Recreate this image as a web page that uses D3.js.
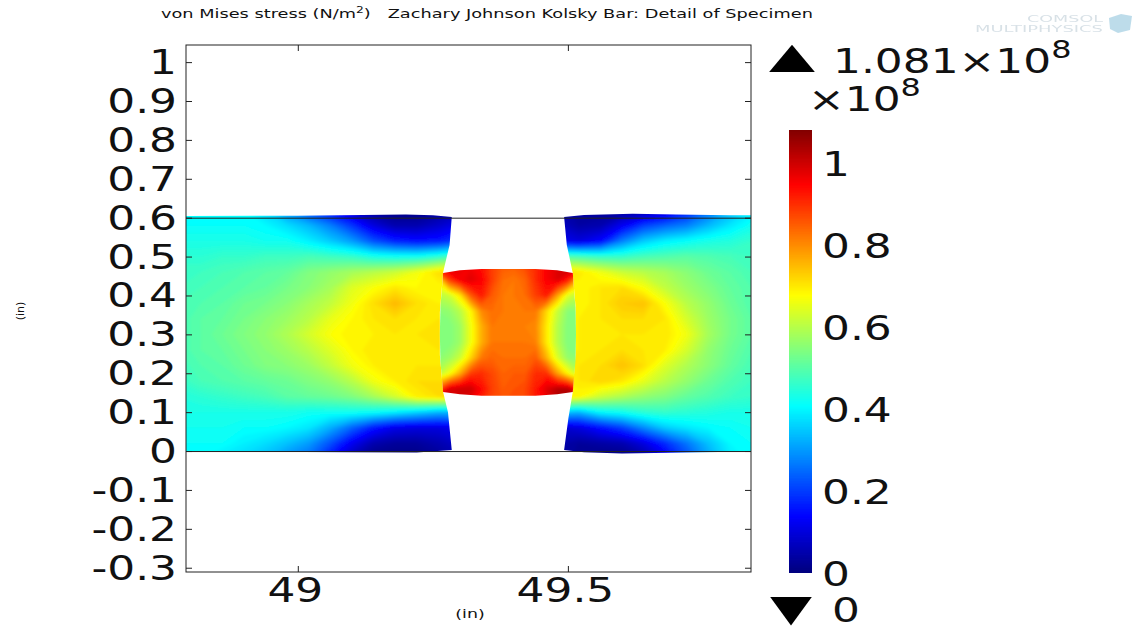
<!DOCTYPE html>
<html>
<head>
<meta charset="utf-8">
<script src="https://cdn.jsdelivr.net/npm/d3@7"></script>
<style>
  body { margin: 0; background: #fff; }
  text { font-family: "DejaVu Sans", sans-serif; fill: #111; }
</style>
</head>
<body>
<div id="chart"></div>
<script>
// axis ticks, inches and 1e8 N/m2
const xTicks = [49, 49.5];
const yTicks = [-0.3, -0.2, -0.1, 0, 0.1, 0.2, 0.3, 0.4, 0.5, 0.6, 0.7, 0.8, 0.9, 1];
const colorTicks = [0, 0.2, 0.4, 0.6, 0.8, 1];
const stressMax = 1.081;

// stress, one row per y (top row first)
const leftBarX = [48.78, 0.04];
const leftBarY = [0.62, 0.04];
const leftBarStress = [
  [.40,.40,.40,.40,.36,.28,.20,.13,.07,.02,.00,.00,.02,.05],
  [.41,.41,.41,.41,.40,.37,.33,.27,.19,.10,.05,.05,.08,.12],
  [.43,.43,.43,.43,.42,.42,.39,.35,.30,.22,.17,.15,.16,.20],
  [.45,.45,.46,.46,.47,.47,.48,.47,.46,.43,.42,.42,.45,.50],
  [.47,.47,.48,.49,.50,.51,.54,.56,.58,.60,.62,.66,.71,.72],
  [.47,.48,.49,.50,.51,.53,.55,.58,.64,.67,.70,.68,.68,.68],
  [.48,.49,.50,.52,.53,.55,.58,.61,.66,.71,.75,.71,.69,.69],
  [.48,.50,.51,.53,.55,.57,.60,.65,.68,.70,.71,.70,.70,.70],
  [.48,.50,.52,.54,.56,.59,.63,.67,.69,.69,.70,.70,.71,.71],
  [.48,.50,.51,.53,.55,.57,.60,.64,.68,.70,.70,.70,.70,.70],
  [.47,.49,.50,.52,.54,.55,.57,.61,.66,.69,.70,.70,.70,.70],
  [.46,.48,.49,.50,.51,.52,.54,.56,.60,.66,.69,.71,.71,.71],
  [.44,.45,.46,.47,.48,.50,.51,.52,.54,.58,.63,.69,.71,.71],
  [.43,.43,.43,.43,.43,.43,.42,.42,.42,.41,.39,.36,.33,.33],
  [.42,.42,.42,.41,.41,.40,.38,.32,.24,.16,.11,.10,.10,.12],
  [.41,.41,.41,.39,.37,.34,.30,.22,.12,.05,.03,.03,.05,.08],
  [.40,.40,.38,.36,.33,.28,.24,.14,.05,.00,.00,.00,.02,.05]
];

const rightBarX = [49.48, 0.04];
const rightBarY = [0.62, 0.04];
const rightBarStress = [
  [.05,.03,.02,.02,.03,.07,.15,.24,.32,.38,.40],
  [.08,.04,.05,.12,.20,.24,.27,.33,.38,.42,.42],
  [.12,.10,.14,.27,.35,.39,.41,.43,.44,.46,.46],
  [.50,.48,.46,.46,.48,.49,.50,.49,.48,.47,.47],
  [.72,.70,.66,.62,.60,.58,.55,.52,.50,.48,.48],
  [.68,.68,.70,.71,.67,.61,.57,.54,.51,.49,.49],
  [.68,.68,.70,.73,.74,.67,.60,.56,.52,.49,.49],
  [.68,.69,.70,.71,.71,.70,.63,.57,.53,.50,.50],
  [.69,.69,.70,.70,.70,.70,.66,.58,.53,.50,.50],
  [.69,.69,.70,.71,.70,.69,.63,.56,.52,.49,.49],
  [.69,.70,.71,.74,.71,.64,.59,.55,.51,.48,.48],
  [.68,.70,.72,.70,.65,.60,.56,.52,.49,.47,.47],
  [.70,.68,.62,.59,.56,.54,.51,.49,.47,.46,.46],
  [.35,.33,.40,.42,.45,.46,.45,.44,.43,.43,.43],
  [.08,.10,.15,.20,.28,.35,.38,.40,.41,.42,.42],
  [.05,.03,.04,.05,.10,.18,.26,.34,.40,.41,.41],
  [.04,.02,.00,.00,.03,.10,.20,.30,.38,.41,.41]
];

const specimenX = [49.26, 0.02];
const specimenY = [0.48, 0.04];
const specimenStress = [
  [1.05,1.02,.98,.95,.93,.88,.85,.85,.87,.90,.95,.98,1.05,1.08],
  [.70,.88,.95,.98,.95,.88,.83,.82,.84,.90,.95,.98,.92,.75],
  [.60,.62,.70,.85,.92,.85,.82,.82,.83,.88,.92,.78,.64,.60],
  [.55,.56,.60,.68,.80,.83,.82,.82,.82,.82,.72,.62,.55,.55],
  [.54,.54,.57,.66,.76,.82,.82,.81,.81,.80,.70,.60,.54,.54],
  [.54,.54,.57,.66,.76,.82,.82,.82,.82,.81,.70,.60,.54,.54],
  [.55,.57,.62,.72,.82,.84,.83,.83,.83,.85,.76,.64,.56,.55],
  [.60,.66,.76,.88,.90,.87,.84,.85,.85,.90,.90,.78,.68,.60],
  [.85,.98,1.00,1.00,.94,.88,.85,.86,.87,.92,.98,1.02,1.02,.90],
  [1.08,1.04,.98,.95,.90,.87,.86,.86,.87,.92,.95,1.02,1.08,1.08]
];

// deformed outlines of the three parts, [x, y] in inches
const leftBarOutline = [[48.7,.604],[49.0,.605],[49.12,.607],[49.2,.608],[49.25,.606],[49.285,.602],[49.281,.53],[49.269,.46],[49.263,.357],[49.263,.247],[49.269,.152],[49.278,.10],[49.285,.003],[49.22,-.004],[49.1,-.003],[48.7,.0]];
const rightBarOutline = [[49.493,.602],[49.53,.607],[49.62,.610],[49.7,.608],[49.8,.606],[49.9,.606],[49.9,.0],[49.75,-.003],[49.6,-.006],[49.53,-.003],[49.493,.003],[49.501,.085],[49.509,.152],[49.514,.247],[49.514,.374],[49.509,.458],[49.498,.53]];
const specimenOutline = [[49.269,.458],[49.30,.465],[49.34,.468],[49.44,.468],[49.48,.465],[49.509,.458],[49.514,.37],[49.515,.30],[49.514,.23],[49.509,.152],[49.48,.146],[49.44,.142],[49.34,.142],[49.30,.146],[49.269,.152],[49.264,.23],[49.263,.30],[49.264,.37]];

const width = 1135, height = 629;
const frame = {left: 186, right: 751, top: 45, bottom: 572};
const labelStretch = 1.33;

const x = d3.scaleLinear().domain([48.793, 49.839]).range([frame.left, frame.right]);
const y = d3.scaleLinear().domain([-0.311, 1.044]).range([frame.bottom, frame.top]);
const barY = d3.scaleLinear().domain([0, stressMax]).range([573, 130]);

// jet
const color = d3.scaleLinear()
  .domain([0, .135, .405, .675, .946, 1.081])
  .range(["#00007f", "#0000ff", "#00ffff", "#ffff00", "#ff0000", "#7f0000"])
  .clamp(true);

const svg = d3.select("#chart").append("svg")
  .attr("width", width)
  .attr("height", height)
  .style("display", "block");

const defs = svg.append("defs");
defs.append("filter").attr("id", "soft")
  .attr("x", "-5%").attr("y", "-5%").attr("width", "110%").attr("height", "110%")
  .append("feGaussianBlur").attr("stdDeviation", 1.6);
defs.append("clipPath").attr("id", "frameClip").append("rect")
  .attr("x", frame.left).attr("y", frame.top)
  .attr("width", frame.right - frame.left).attr("height", frame.bottom - frame.top);

const outlineLine = d3.line().x(d => x(d[0])).y(d => y(d[1]));
const levels = d3.range(0, 1.09, 0.01);

function drawPart(name, stress, xGrid, yGrid, outline) {
  let w = stress[0].length, h = stress.length;
  // grid node i sits at contour coordinate i + 0.5
  let project = d3.geoTransform({
    point: function(cx, cy) {
      this.stream.point(x(xGrid[0] + (cx - 0.5) * xGrid[1]), y(yGrid[0] - (cy - 0.5) * yGrid[1]));
    }
  });
  let path = d3.geoPath(project);
  let bands = d3.contours().size([w, h]).thresholds(levels)(stress.flat());

  defs.append("clipPath").attr("id", name + "Clip")
    .append("path").attr("d", outlineLine(outline) + "Z");

  svg.append("g")
    .attr("clip-path", "url(#frameClip)")
    .append("g")
    .attr("clip-path", `url(#${name}Clip)`)
    .append("g")
    .attr("filter", "url(#soft)")
    .selectAll("path")
    .data(bands)
    .join("path")
    .attr("d", path)
    .attr("fill", d => color(d.value + 0.005));
}

drawPart("leftBar", leftBarStress, leftBarX, leftBarY, leftBarOutline);
drawPart("rightBar", rightBarStress, rightBarX, rightBarY, rightBarOutline);
drawPart("specimen", specimenStress, specimenX, specimenY, specimenOutline);

// undeformed edges
svg.append("g").selectAll("line")
  .data([0, 0.6])
  .join("line")
  .attr("x1", frame.left).attr("x2", frame.right)
  .attr("y1", d => y(d) + 0.5).attr("y2", d => y(d) + 0.5)
  .attr("stroke", "#222").attr("stroke-width", 1);

// frame and ticks
svg.append("rect")
  .attr("x", frame.left).attr("y", frame.top)
  .attr("width", frame.right - frame.left).attr("height", frame.bottom - frame.top)
  .attr("fill", "none").attr("stroke", "#222").attr("stroke-width", 1);

function styleAxis(g) {
  g.select(".domain").remove();
  g.selectAll("line").attr("stroke", "#222");
}

// the picture uses a plain hyphen for negative ticks
svg.append("g").attr("transform", `translate(${frame.left},0)`)
  .call(d3.axisLeft(y).tickValues(yTicks).tickSize(-6).tickFormat(d => String(d)))
  .call(styleAxis)
  .call(g => g.selectAll("text")
    .attr("x", null).attr("dy", null)
    .attr("transform", `translate(-9,11.5) scale(${labelStretch},1)`)
    .style("font-family", '"DejaVu Sans"').style("font-size", "33px"));

svg.append("g").attr("transform", `translate(${frame.right},0)`)
  .call(d3.axisRight(y).tickValues(yTicks).tickSize(-6).tickFormat(""))
  .call(styleAxis);

svg.append("g").attr("transform", `translate(0,${frame.bottom})`)
  .call(d3.axisBottom(x).tickValues(xTicks).tickSize(-6).tickFormat(d => String(d)))
  .call(styleAxis)
  .call(g => g.selectAll("text")
    .attr("y", null).attr("dy", null)
    .attr("transform", `translate(-3,30) scale(${labelStretch},1)`)
    .style("font-family", '"DejaVu Sans"').style("font-size", "33px"));

svg.append("g").attr("transform", `translate(0,${frame.top})`)
  .call(d3.axisTop(x).tickValues(xTicks).tickSize(-6).tickFormat(""))
  .call(styleAxis);

// colour bar
const barSteps = d3.range(0, stressMax, 0.004);
svg.append("g").selectAll("rect")
  .data(barSteps)
  .join("rect")
  .attr("x", 789).attr("width", 23)
  .attr("y", d => barY(Math.min(d + 0.006, stressMax)))
  .attr("height", d => barY(d) - barY(Math.min(d + 0.006, stressMax)))
  .attr("fill", d => color(d));

function bigText(px, py, parts) {
  let t = svg.append("text")
    .attr("transform", `translate(${px},${py}) scale(${labelStretch},1)`)
    .style("font-size", "33px");
  parts.forEach(p => {
    let s = t.append("tspan").text(p.text);
    if (p.sup) s.attr("dy", -15).style("font-size", "24px");
  });
  return t;
}

colorTicks.forEach(d => {
  bigText(822, barY(d) + 12.5, [{text: String(d)}]);
});

// max and min markers
const triangle = d3.symbol().type(d3.symbolTriangle).size(430);
svg.append("path").attr("d", triangle())
  .attr("transform", "translate(792,63) scale(1.45,1)").attr("fill", "#000");
svg.append("path").attr("d", triangle())
  .attr("transform", "translate(791,606.5) scale(1.32,-1.05)").attr("fill", "#000");

bigText(833, 73, [{text: "1.081\u00d710"}, {text: "8", sup: true}]);
bigText(808, 111, [{text: "\u00d710"}, {text: "8", sup: true}]);
bigText(832, 622, [{text: "0"}]);

// title and axis units
const title = svg.append("text")
  .attr("transform", "translate(161,18) scale(1.365,1)")
  .style("font-size", "13px");
title.append("tspan").text("von Mises stress (N/m");
title.append("tspan").text("2").attr("dy", -5).style("font-size", "9px");
title.append("tspan").text(")").attr("dy", 5);
title.append("tspan").text("\u00a0\u00a0\u00a0Zachary Johnson Kolsky Bar: Detail of Specimen");

svg.append("text")
  .attr("transform", "translate(24,311) rotate(-90)")
  .attr("text-anchor", "middle")
  .style("font-size", "11px")
  .text("(in)");
svg.append("text")
  .attr("transform", "translate(470,618) scale(1.45,1)")
  .attr("text-anchor", "middle")
  .style("font-size", "12px")
  .text("(in)");

// faded vendor logo
const logo = svg.append("g").attr("opacity", 0.45);
logo.append("text").attr("x", 1027).attr("y", 22)
  .attr("textLength", 76).attr("lengthAdjust", "spacingAndGlyphs")
  .style("font-size", "9px").style("fill", "#a9bdca").text("COMSOL");
logo.append("text").attr("x", 975).attr("y", 32)
  .attr("textLength", 128).attr("lengthAdjust", "spacingAndGlyphs")
  .style("font-size", "9px").style("fill", "#a9bdca").text("MULTIPHYSICS");
logo.append("path").attr("d", "M1109,18 L1121,14 L1132,16 L1130,30 L1118,33 L1110,29 Z").attr("fill", "#6fb2d2");
</script>
</body>
</html>
